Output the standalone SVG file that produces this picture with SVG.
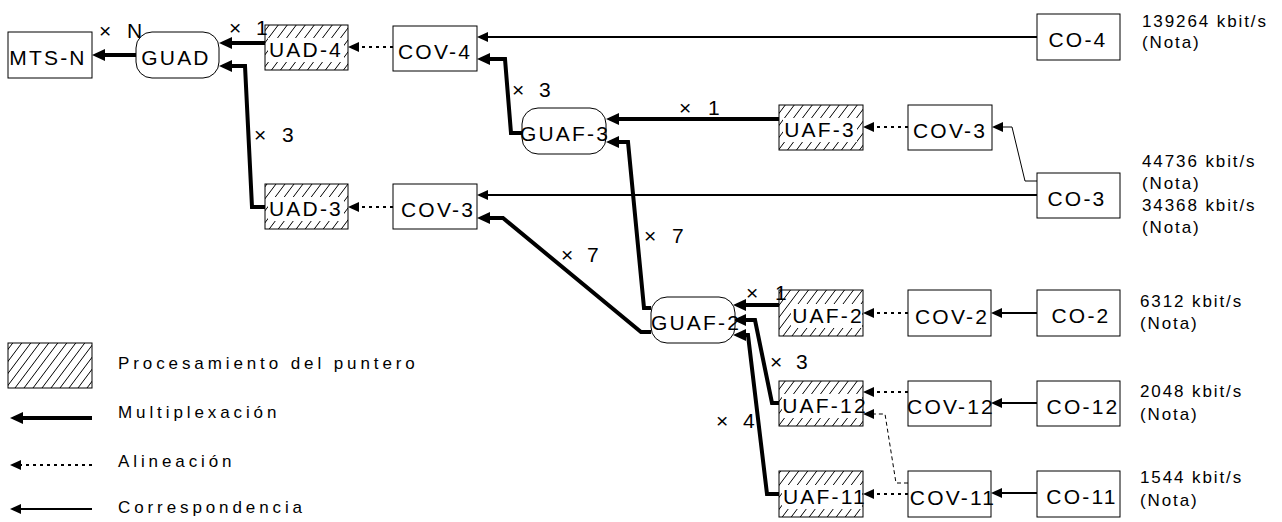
<svg xmlns="http://www.w3.org/2000/svg" width="1282" height="522" viewBox="0 0 1282 522">
<style>
text{font-family:'Liberation Sans',Arial,sans-serif;fill:#000}
.box{fill:#fff;stroke:#000;stroke-width:1}
.hb{fill:url(#hatch);stroke:#000;stroke-width:1}
.wb{fill:#fff;stroke:none}
.lbl{font-size:21px;letter-spacing:2.2px;text-anchor:middle}
.mul{font-size:21px}
.rate{font-size:17px;letter-spacing:1.9px}
.leg{font-size:17px;letter-spacing:3.9px}
.mux{fill:none;stroke:#000;stroke-width:4;marker-end:url(#ma)}
.cor{fill:none;stroke:#000;stroke-width:2;marker-end:url(#mb)}
.cor1{fill:none;stroke:#000;stroke-width:1;marker-end:url(#mb)}
.ali{fill:none;stroke:#000;stroke-width:2;stroke-dasharray:3 4;marker-end:url(#mb)}
.dsh{fill:none;stroke:#000;stroke-width:1;stroke-dasharray:4 3;marker-end:url(#mb)}
</style>
<defs>
<pattern id="hatch" patternUnits="userSpaceOnUse" width="9" height="12">
<path d="M0,12 L9,0 M-9,12 L0,0 M9,12 L18,0" stroke="#000" stroke-width="1" fill="none"/>
</pattern>
<marker id="ma" viewBox="0 0 13 12" refX="1" refY="6" markerWidth="13" markerHeight="12" markerUnits="userSpaceOnUse" orient="auto"><path d="M0,0 L13,6 L0,12 z" fill="#000"/></marker>
<marker id="mb" viewBox="0 0 11 10" refX="1" refY="5" markerWidth="11" markerHeight="10" markerUnits="userSpaceOnUse" orient="auto"><path d="M0,0 L11,5 L0,10 z" fill="#000"/></marker>
</defs>

<g id="connectors">
<path class="mux" d="M136,55 H104"/>
<path class="mux" d="M265,43 H231"/>
<path class="mux" d="M265,207 H252 L245,66 H231"/>
<path class="mux" d="M522,133 H511 L505,59 H489"/>
<path class="mux" d="M779,119 H618"/>
<path class="mux" d="M651,308 H644 L628,142 H618"/>
<path class="mux" d="M651,332 H641 L503,218 H489"/>
<path class="mux" d="M779,305 H745"/>
<path class="mux" d="M779,403 H772 L755,320 H745"/>
<path class="mux" d="M779,494 H767 L748,335 H745"/>
<path class="cor" d="M1037,37 H487"/>
<path class="cor" d="M1037,195 H487"/>
<path class="cor1" d="M1037,181 H1025 L1012,127 H1002"/>
<path class="cor" d="M1037,313 H1001"/>
<path class="cor" d="M1037,403 H1001"/>
<path class="cor" d="M1037,493 H1001"/>
<path class="ali" d="M393,47 H358"/>
<path class="ali" d="M393,207 H358"/>
<path class="ali" d="M908,127 H873"/>
<path class="ali" d="M908,313 H873"/>
<path class="ali" d="M908,392 H873"/>
<path class="ali" d="M908,494 H873"/>
<path class="dsh" d="M908,483 H896 L885,414 H873"/>
</g>

<g id="mts-n"><rect class="box" x="8" y="32" width="84" height="46"/><text class="lbl" x="48" y="65">MTS-N</text></g>
<g id="guad"><rect class="box" x="136" y="32" width="83" height="46" rx="16"/><text class="lbl" x="176" y="65">GUAD</text></g>
<g id="uad-4"><rect class="hb" x="265" y="25" width="83" height="45"/><rect class="wb" x="268" y="38" width="76" height="24"/><text class="lbl" x="306" y="57">UAD-4</text></g>
<g id="cov-4"><rect class="box" x="393" y="26" width="84" height="45"/><text class="lbl" x="435" y="59">COV-4</text></g>
<g id="co-4"><rect class="box" x="1037" y="14" width="83" height="46"/><text class="lbl" x="1078" y="47">CO-4</text></g>
<g id="guaf-3"><rect class="box" x="522" y="108" width="84" height="46" rx="16"/><text class="lbl" x="565" y="141">GUAF-3</text></g>
<g id="uaf-3"><rect class="hb" x="779" y="105" width="84" height="45"/><rect class="wb" x="783" y="118" width="74" height="24"/><text class="lbl" x="820" y="137">UAF-3</text></g>
<g id="cov-3a"><rect class="box" x="908" y="105" width="84" height="45"/><text class="lbl" x="950" y="138">COV-3</text></g>
<g id="co-3"><rect class="box" x="1037" y="173" width="83" height="45"/><text class="lbl" x="1077" y="206">CO-3</text></g>
<g id="uad-3"><rect class="hb" x="265" y="184" width="83" height="45"/><rect class="wb" x="268" y="197" width="76" height="24"/><text class="lbl" x="306" y="216">UAD-3</text></g>
<g id="cov-3b"><rect class="box" x="393" y="184" width="84" height="45"/><text class="lbl" x="438" y="217">COV-3</text></g>
<g id="guaf-2"><rect class="box" x="651" y="297" width="84" height="46" rx="16"/><text class="lbl" x="696" y="330">GUAF-2</text></g>
<g id="uaf-2"><rect class="hb" x="779" y="290" width="84" height="46"/><rect class="wb" x="791" y="304" width="71" height="24"/><text class="lbl" x="828" y="323">UAF-2</text></g>
<g id="cov-2"><rect class="box" x="908" y="290" width="83" height="46"/><text class="lbl" x="952" y="324">COV-2</text></g>
<g id="co-2"><rect class="box" x="1037" y="290" width="83" height="46"/><text class="lbl" x="1081" y="323">CO-2</text></g>
<g id="uaf-12"><rect class="hb" x="779" y="381" width="84" height="45"/><rect class="wb" x="782" y="394" width="80" height="24"/><text class="lbl" x="825" y="413">UAF-12</text></g>
<g id="cov-12"><rect class="box" x="908" y="381" width="83" height="45"/><text class="lbl" x="951" y="414">COV-12</text></g>
<g id="co-12"><rect class="box" x="1037" y="381" width="83" height="45"/><text class="lbl" x="1083" y="414">CO-12</text></g>
<g id="uaf-11"><rect class="hb" x="779" y="471" width="84" height="46"/><rect class="wb" x="782" y="485" width="80" height="24"/><text class="lbl" x="825" y="504">UAF-11</text></g>
<g id="cov-11"><rect class="box" x="908" y="471" width="83" height="46"/><text class="lbl" x="953" y="505">COV-11</text></g>
<g id="co-11"><rect class="box" x="1037" y="471" width="83" height="46"/><text class="lbl" x="1082" y="504">CO-11</text></g>

<g id="multipliers">
<text class="mul" x="99" y="38">× <tspan x="127">N</tspan></text>
<text class="mul" x="229" y="35">× <tspan x="256">1</tspan></text>
<text class="mul" x="512" y="97">× <tspan x="539">3</tspan></text>
<text class="mul" x="679" y="115">× <tspan x="708">1</tspan></text>
<text class="mul" x="254" y="142">× <tspan x="282">3</tspan></text>
<text class="mul" x="561" y="262">× <tspan x="587">7</tspan></text>
<text class="mul" x="644" y="243">× <tspan x="672">7</tspan></text>
<text class="mul" x="746" y="300">× <tspan x="775">1</tspan></text>
<text class="mul" x="770" y="369">× <tspan x="796">3</tspan></text>
<text class="mul" x="716" y="428">× <tspan x="743">4</tspan></text>
</g>

<g id="rates">
<text class="rate" x="1142" y="27">139264 kbit/s</text>
<text class="rate" x="1142" y="48">(Nota)</text>
<text class="rate" x="1142" y="167">44736 kbit/s</text>
<text class="rate" x="1142" y="189">(Nota)</text>
<text class="rate" x="1142" y="211">34368 kbit/s</text>
<text class="rate" x="1142" y="233">(Nota)</text>
<text class="rate" x="1140" y="307">6312 kbit/s</text>
<text class="rate" x="1140" y="329">(Nota)</text>
<text class="rate" x="1140" y="397">2048 kbit/s</text>
<text class="rate" x="1140" y="420">(Nota)</text>
<text class="rate" x="1140" y="483">1544 kbit/s</text>
<text class="rate" x="1140" y="506">(Nota)</text>
</g>

<g id="legend">
<rect class="hb" x="8" y="343" width="84" height="45"/>
<text class="leg" x="118" y="369">Procesamiento del puntero</text>
<path d="M92,418 H22" fill="none" stroke="#000" stroke-width="4" marker-end="url(#ma)"/>
<text class="leg" x="118" y="418">Multiplexación</text>
<path d="M92,465 H20" fill="none" stroke="#000" stroke-width="2" stroke-dasharray="3 4" marker-end="url(#mb)"/>
<text class="leg" x="118" y="467">Alineación</text>
<path d="M92,509 H20" fill="none" stroke="#000" stroke-width="2" marker-end="url(#mb)"/>
<text class="leg" x="118" y="513">Correspondencia</text>
</g>
</svg>
